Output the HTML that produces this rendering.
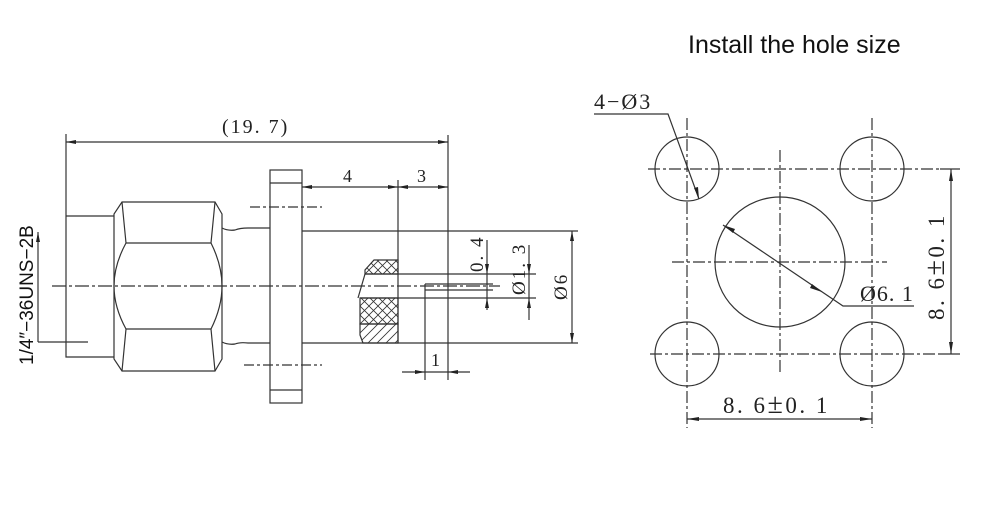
<!DOCTYPE html>
<html><head><meta charset="utf-8"><style>
html,body{margin:0;padding:0;background:#fff;}
svg{display:block}
.s{font-family:"Liberation Serif","Noto Serif CJK SC",serif;fill:#222}
.a{font-family:"Liberation Sans",sans-serif;fill:#111}
</style></head><body>
<svg width="1000" height="523" viewBox="0 0 1000 523" xmlns="http://www.w3.org/2000/svg">
<defs>
<pattern id="x" width="9" height="9" patternUnits="userSpaceOnUse">
<path d="M0,0 L9,9 M9,0 L0,9" stroke="#333" stroke-width="0.8"/>
</pattern>
<pattern id="d" width="9" height="9" patternUnits="userSpaceOnUse">
<path d="M0,9 L9,0 M-2,2 L2,-2 M7,11 L11,7" stroke="#333" stroke-width="0.8"/>
</pattern>
</defs>
<g stroke="#333" stroke-width="1.2" fill="none">
<line x1="52" y1="286" x2="500" y2="286" stroke-dasharray="14,3,3,3"/>
<line x1="66" y1="134" x2="66" y2="216"/>
<line x1="66" y1="142" x2="448" y2="142"/>
<line x1="448" y1="135" x2="448" y2="380"/>
<polyline points="66,216 114,216"/>
<polyline points="66,216 66,357 114,357"/>
<polygon points="122,202 215,202 222,214 222,359 215,371 122,371 114,359 114,214"/>
<line x1="126" y1="243" x2="211" y2="243"/>
<line x1="126" y1="329" x2="211" y2="329"/>
<path d="M122,202 L126,243 Q114,265 114,286 Q114,307 126,329 L122,371"/>
<path d="M215,202 L211,243 Q222,265 222,286 Q222,307 211,329 L215,371"/>
<path d="M222,228 Q228,231 235,230 Q240,228 248,228 L270,228"/>
<path d="M222,342 Q228,345 235,344 Q240,342 248,343 L270,343"/>
<rect x="270" y="170" width="32" height="233"/>
<line x1="270" y1="183" x2="302" y2="183"/>
<line x1="270" y1="390" x2="302" y2="390"/>
<line x1="250" y1="207" x2="322" y2="207" stroke-dasharray="10,3,3,3"/>
<line x1="244" y1="365" x2="322" y2="365" stroke-dasharray="10,3,3,3"/>
<line x1="38" y1="232" x2="38" y2="342"/>
<line x1="38" y1="342" x2="88" y2="342"/>
<line x1="302" y1="231" x2="578" y2="231"/>
<line x1="302" y1="343" x2="578" y2="343"/>
<line x1="302" y1="187" x2="448" y2="187"/>
<line x1="398" y1="180" x2="398" y2="343"/>
<path d="M398,260 L374,260 L365,270 L365,274 L398,274 Z" fill="url(#x)"/>
<path d="M360,298 L398,298 L398,324 L360,324 Z" fill="url(#x)"/>
<path d="M360,324 L398,324 L398,343 L363,343 L360,335 Z" fill="url(#d)"/>
<line x1="365" y1="274" x2="358" y2="298"/>
<line x1="365" y1="274" x2="536" y2="274"/>
<line x1="360" y1="298" x2="536" y2="298"/>
<line x1="425" y1="284" x2="493" y2="284"/>
<line x1="425" y1="290" x2="493" y2="290"/>
<line x1="425" y1="284" x2="425" y2="380"/>
<line x1="402" y1="372" x2="470" y2="372"/>
<line x1="487" y1="240" x2="487" y2="310"/>
<line x1="529" y1="245" x2="529" y2="320"/>
<line x1="572" y1="231" x2="572" y2="343"/>
</g>
<g fill="#222">
<polygon points="66,142 76,140 76,144"/>
<polygon points="448,142 438,140 438,144"/>
<polygon points="302,187 312,185 312,189"/>
<polygon points="398,187 388,185 388,189"/>
<polygon points="398,187 408,185 408,189"/>
<polygon points="448,187 438,185 438,189"/>
<polygon points="425,372 415,370 415,374"/>
<polygon points="448,372 458,370 458,374"/>
<polygon points="572,231 570,241 574,241"/>
<polygon points="572,343 570,333 574,333"/>
<polygon points="487,274 485,264 489,264"/>
<polygon points="487,298 485,308 489,308"/>
<polygon points="529,274 527,264 531,264"/>
<polygon points="529,298 527,308 531,308"/>
<polygon points="38,232 36,242 40,242"/>
</g>
<text class="s" x="222" y="133" font-size="20" letter-spacing="2">(19. 7)</text>
<text class="s" x="343" y="182" font-size="18">4</text>
<text class="s" x="417" y="182" font-size="18">3</text>
<text class="s" x="431" y="366" font-size="18">1</text>
<text class="a" transform="translate(33,365) rotate(-90)" font-size="19">1/4″−36UNS−2B</text>
<text class="s" transform="translate(483,272) rotate(-90)" font-size="19" letter-spacing="2">0. 4</text>
<text class="s" transform="translate(525,295) rotate(-90)" font-size="19" letter-spacing="2">Ø1. 3</text>
<text class="s" transform="translate(567,300) rotate(-90)" font-size="19" letter-spacing="2">Ø6</text>

<text class="a" x="688" y="53" font-size="25">Install the hole size</text>
<g stroke="#333" stroke-width="1.2" fill="none">
<circle cx="687" cy="169" r="32"/>
<circle cx="872" cy="169" r="32"/>
<circle cx="687" cy="354" r="32"/>
<circle cx="872" cy="354" r="32"/>
<circle cx="780" cy="262" r="65"/>
<g stroke-dasharray="12,3,3,3">
<line x1="648" y1="169" x2="940" y2="169"/>
<line x1="650" y1="354" x2="940" y2="354"/>
<line x1="687" y1="118" x2="687" y2="428"/>
<line x1="872" y1="118" x2="872" y2="428"/>
<line x1="780" y1="150" x2="780" y2="375"/>
<line x1="672" y1="262" x2="887" y2="262"/>
</g>
<line x1="940" y1="169" x2="960" y2="169"/>
<line x1="940" y1="354" x2="960" y2="354"/>
<line x1="951" y1="169" x2="951" y2="354"/>
<line x1="687" y1="419" x2="872" y2="419"/>
<polyline points="594,114 668,114 699,199"/>
<polyline points="723,225 843,306 914,306"/>
</g>
<g fill="#222">
<polygon points="951,169 949,181 953,181"/>
<polygon points="951,354 949,342 953,342"/>
<polygon points="687,419 699,417 699,421"/>
<polygon points="872,419 860,417 860,421"/>
<polygon points="723,225 735,229 733,233"/>
<polygon points="822,292 810,288 812,284"/>
<polygon points="699,199 694,188 698,187"/>
</g>
<text class="s" x="594" y="109" font-size="22" letter-spacing="2">4−Ø3</text>
<text class="s" x="860" y="301" font-size="22" letter-spacing="1">Ø6. 1</text>
<text class="s" x="723" y="413" font-size="23" letter-spacing="2.5">8. 6<tspan font-size="28">±</tspan>0. 1</text>
<text class="s" transform="translate(944,320) rotate(-90)" font-size="23" letter-spacing="2.5">8. 6<tspan font-size="28">±</tspan>0. 1</text>
</svg>
</body></html>
